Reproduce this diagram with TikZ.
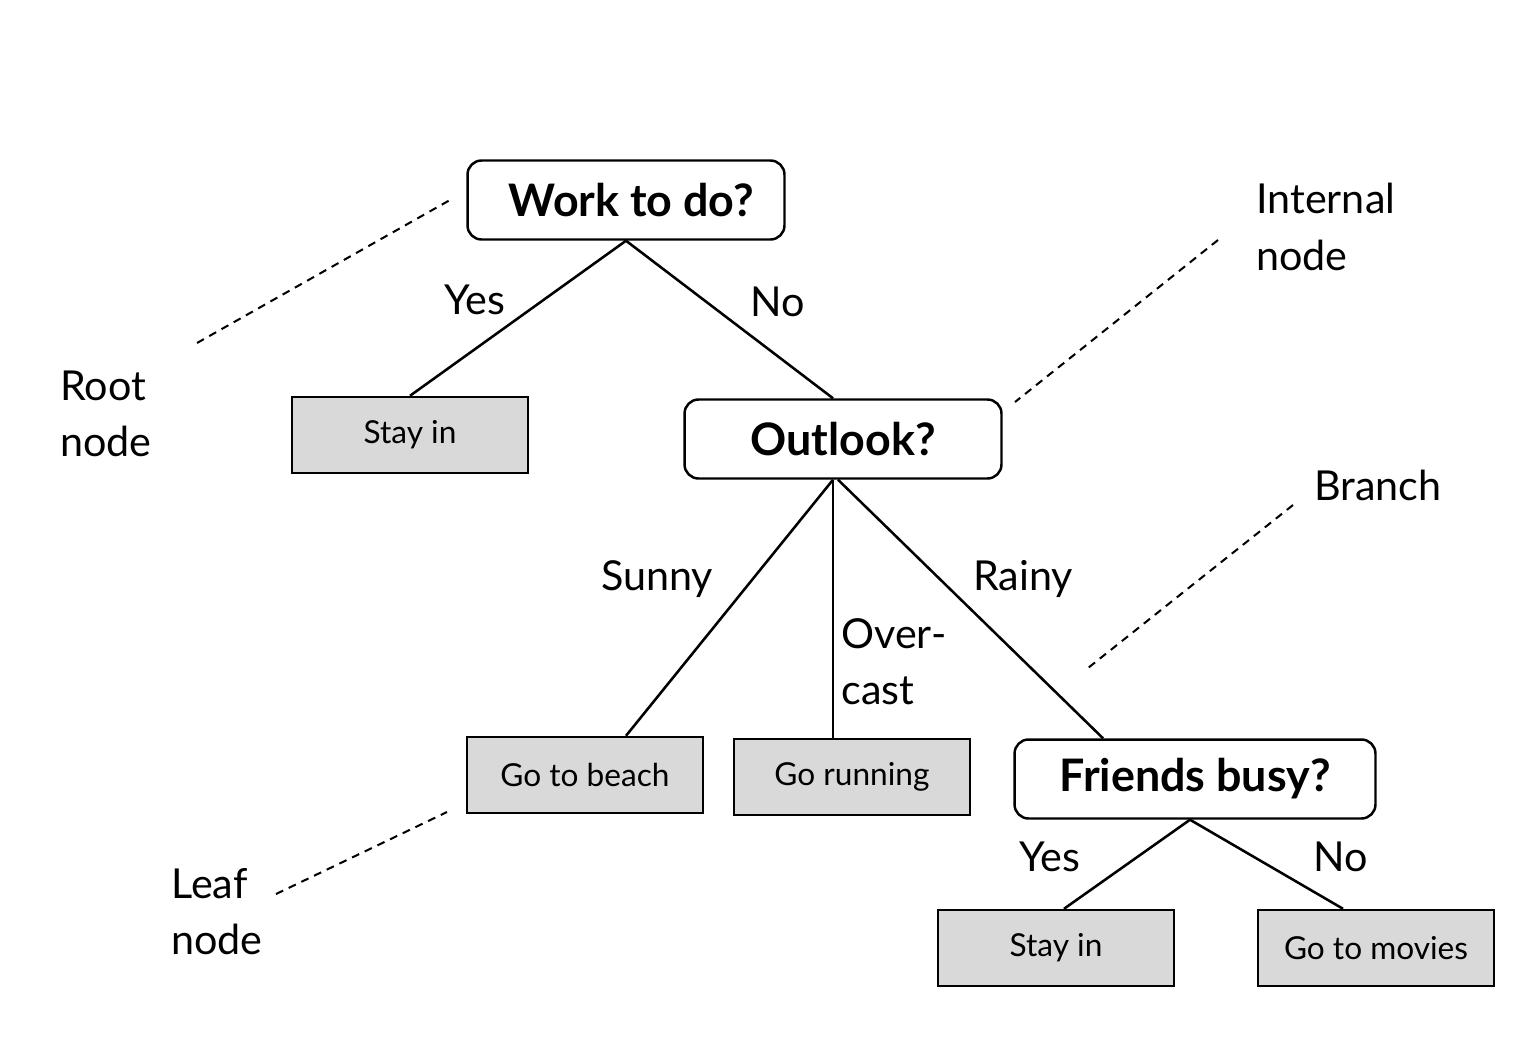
\documentclass[tikz,border=0pt]{standalone}
\usepackage{fontspec}
\setmainfont{Lato}
\usetikzlibrary{calc}
\tikzset{
  decision/.style={draw, rounded corners=8pt, line width=1.4pt, fill=white,
    minimum width=6.34cm, minimum height=1.58cm, inner sep=0pt,
    font=\fontsize{25.5}{30}\selectfont\bfseries},
  leaf/.style={draw, line width=1.4pt, fill=black!15,
    minimum width=4.72cm, minimum height=1.52cm, inner sep=0pt,
    font=\fontsize{18}{22}\selectfont},
  edgelabel/.style={font=\fontsize{23.5}{32}\selectfont, align=left, inner sep=0pt},
  note/.style={font=\fontsize{23.5}{32}\selectfont, align=left, anchor=west, inner sep=0pt},
  branch/.style={line width=1.45pt},
  pointer/.style={line width=1.15pt, dash pattern=on 4.5pt off 3.5pt}
}
\begin{document}
\begin{tikzpicture}[x=0.02cm, y=-0.02cm]
\useasboundingbox (0,0) rectangle (1540,1038);
% tree nodes
\node[decision] (work) at (626,200) {\hspace*{6pt}Work to do?};
\node[leaf] (stayA) at (410,435) {Stay in};
\node[decision] (outlook) at (843,439) {Outlook?};
\node[leaf] (beach) at (585,775) {Go to beach};
\node[leaf] (running) at (852,777) {Go running};
\node[decision, minimum width=7.22cm] (friends) at (1195,779) {Friends busy?};
\node[leaf] (stayB) at (1056,948) {Stay in};
\node[leaf] (movies) at (1376,948) {Go to movies};
% branches
\draw[branch] (work.south) -- (stayA.north);
\draw[branch] (work.south) -- ($(outlook.north)+(-10,0)$);
\draw[branch] ($(outlook.south)+(-10,0)$) -- ($(beach.north)+(41,0)$);
\draw[branch] ($(outlook.south)+(-10,0)$) -- ($(running.north)+(-19,0)$);
\draw[branch] ($(outlook.south)+(-5,0)$) -- ($(friends.north)+(-92,0)$);
\draw[branch] ($(friends.south)+(-5,0)$) -- ($(stayB.north)+(8,0)$);
\draw[branch] ($(friends.south)+(-5,0)$) -- ($(movies.north)+(-33,0)$);
% branch labels
\node[edgelabel] (yesA) at (475,300) {Yes};
\node[edgelabel] (noA) at (778,302) {No};
\node[edgelabel] (sunny) at (657,579) {Sunny};
\node[edgelabel, anchor=west] (overcast) at (841,662) {Over-\\cast};
\node[edgelabel] (rainy) at (1023,579) {Rainy};
\node[edgelabel] (yesB) at (1050,857) {Yes};
\node[edgelabel] (noB) at (1341,857) {No};
% annotations
\node[note] (root) at (60,414) {Root\\node};
\node[note] (internal) at (1256,227) {Internal\\node};
\node[note] (branchnote) at (1314,485) {Branch};
\node[note] (leafnote) at (171,912) {Leaf\\node};
\coordinate (rootA) at (197,343);
\coordinate (rootB) at (450,200);
\coordinate (intA) at (1218,240);
\coordinate (intB) at (1015,402);
\coordinate (brA) at (1293,505);
\coordinate (brB) at (1088,668);
\coordinate (leafA) at (276,894);
\coordinate (leafB) at (447,812);
\draw[pointer] (rootA) -- (rootB);
\draw[pointer] (intA) -- (intB);
\draw[pointer] (brA) -- (brB);
\draw[pointer] (leafA) -- (leafB);
\end{tikzpicture}
\end{document}
